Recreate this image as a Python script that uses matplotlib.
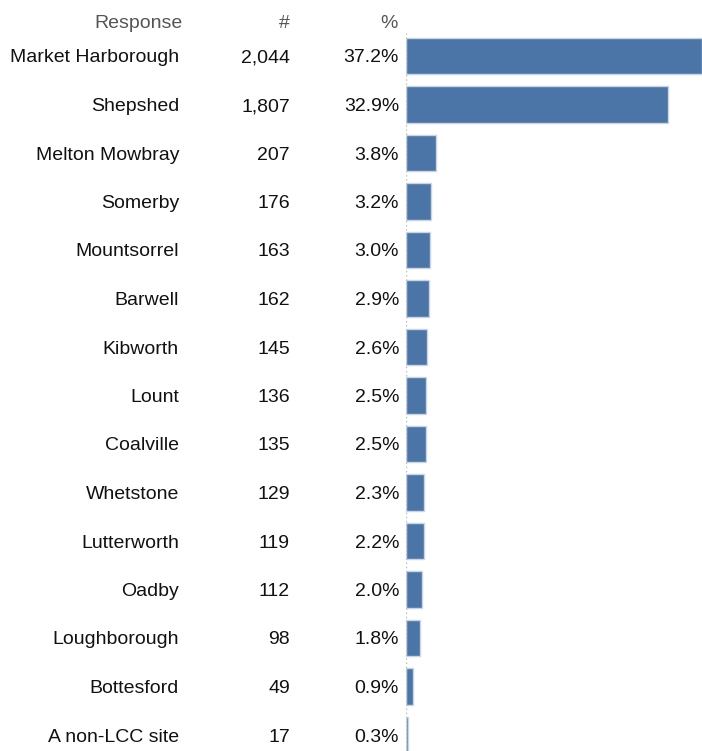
import matplotlib.pyplot as plt
from matplotlib.transforms import blended_transform_factory

plt.rcParams['font.family'] = ['Liberation Sans', 'DejaVu Sans']

# Datos
responses = ["Market Harborough", "Shepshed", "Melton Mowbray", "Somerby", "Mountsorrel",
             "Barwell", "Kibworth", "Lount", "Coalville", "Whetstone", "Lutterworth",
             "Oadby", "Loughborough", "Bottesford", "A non-LCC site"]
counts = [2044, 1807, 207, 176, 163, 162, 145, 136, 135, 129, 119, 112, 98, 49, 17]
percents = [37.2, 32.9, 3.8, 3.2, 3.0, 2.9, 2.6, 2.5, 2.5, 2.3, 2.2, 2.0, 1.8, 0.9, 0.3]

W, H = 702, 751
fig = plt.figure(figsize=(W / 100, H / 100), dpi=100)

row_h = 48.5
top_px = 56 - row_h / 2
ax = fig.add_axes([406 / W, 0, (W - 406) / W, 1 - top_px / H])

y = list(range(len(responses)))
ax.barh(y, percents, height=0.76, color="#4a75a6", edgecolor="#c9d5e4", linewidth=1)
ax.set_xlim(0, 37.2)
ax.set_ylim(-0.5 + (H - top_px) / row_h, -0.5)
for s in ax.spines.values():
    s.set_visible(False)
ax.axvline(0, color="#bbbbbb", linestyle=(0, (1, 2)), linewidth=1)
ax.set_xticks([])
ax.set_yticks([])

tr = blended_transform_factory(fig.transFigure, ax.transData)
fs = 14
for i, (r, c, p) in enumerate(zip(responses, counts, percents)):
    ax.text(179 / W, i, r, transform=tr, ha="right", va="center_baseline", fontsize=fs, color="#111111", clip_on=False)
    ax.text(290 / W, i, f"{c:,}", transform=tr, ha="right", va="center_baseline", fontsize=fs, color="#111111", clip_on=False)
    ax.text(399 / W, i, f"{p:.1f}%", transform=tr, ha="right", va="center_baseline", fontsize=fs, color="#111111", clip_on=False)

hy = 1 - 21 / H
fig.text(183 / W, hy, "Response", ha="right", va="center_baseline", fontsize=fs, color="#555555")
fig.text(290 / W, hy, "#", ha="right", va="center_baseline", fontsize=fs, color="#555555")
fig.text(398 / W, hy, "%", ha="right", va="center_baseline", fontsize=fs, color="#555555")

fig.savefig("out.png", dpi=100)
